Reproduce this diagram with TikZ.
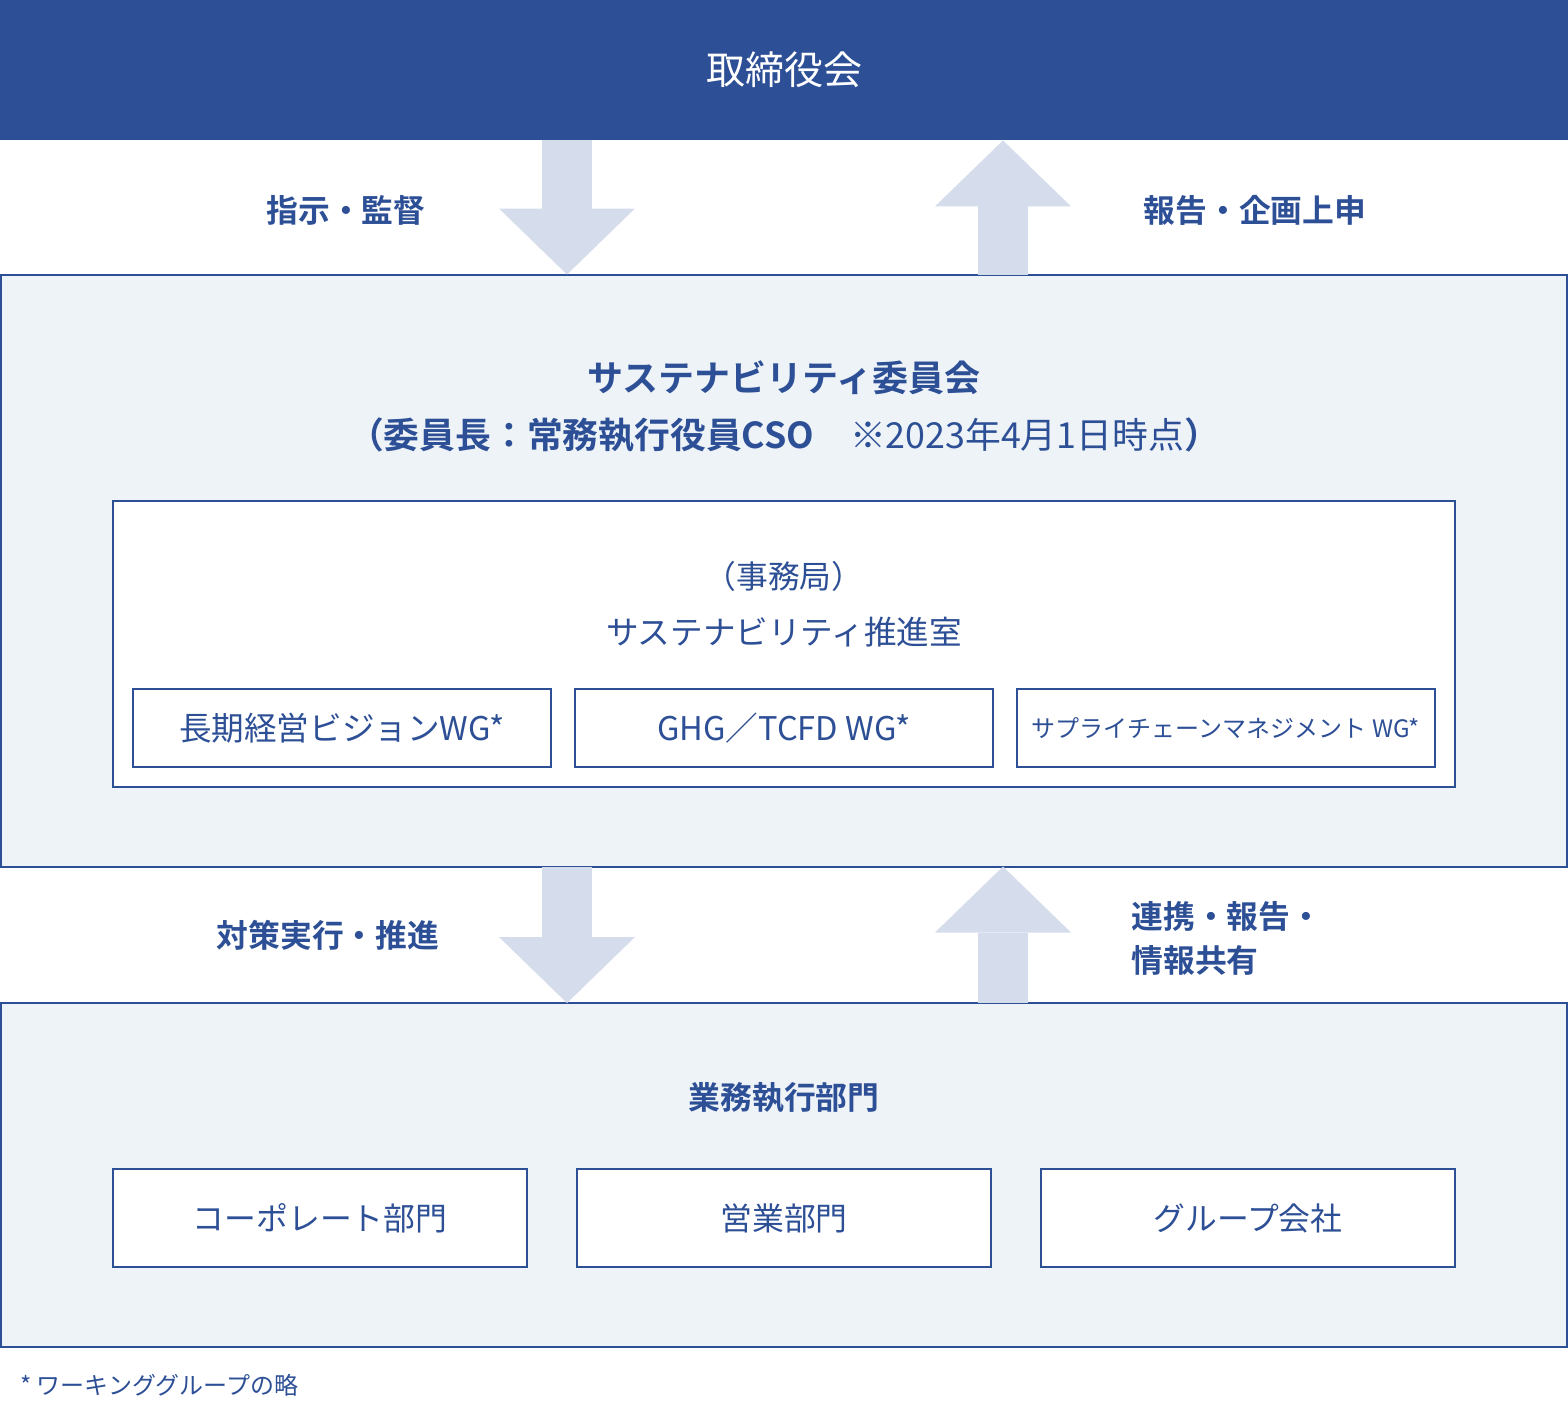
\documentclass[tikz,border=0pt]{standalone}
\usepackage{fontspec}
\setmainfont{Noto Sans CJK JP}[BoldFont={Noto Sans CJK JP Bold}]
\usetikzlibrary{arrows.meta,positioning}
\definecolor{navy}{HTML}{2D4F96}
\definecolor{pale}{HTML}{EEF3F8}
\definecolor{arrowgray}{HTML}{D5DCEB}
\tikzset{
  x=0.5pt,y=-0.5pt,
  panel/.style={draw=navy,fill=pale,line width=1pt,inner sep=0pt,outer sep=0pt},
  whitebox/.style={draw=navy,fill=white,line width=1pt,inner sep=0pt,outer sep=0pt},
  lbl/.style={text=navy,inner sep=0pt,font=\fontsize{15.9pt}{22pt}\selectfont},
  boldlbl/.style={lbl,font=\fontsize{15.9pt}{22pt}\selectfont\bfseries},
  wgbox/.style={whitebox,minimum width=209pt,minimum height=39pt,lbl,
    font=\fontsize{16.3pt}{22pt}\selectfont},
  deptbox/.style={whitebox,minimum width=207pt,minimum height=49pt,lbl},
  blockarr/.style={draw=arrowgray,line width=25pt,
    -{Triangle[length=33pt,width=68pt,line width=0pt]}},
}
\begin{document}
\begin{tikzpicture}
  \useasboundingbox (0,0) rectangle (1568,1403);
  % ---- board of directors ----
  \node[fill=navy,inner sep=0pt,minimum width=784pt,minimum height=70pt] (board) at (784,70) {};
  \node[text=white,font=\fontsize{19.5pt}{24pt}\selectfont] (boardlbl) at (board.center) {取締役会};
  % ---- sustainability committee ----
  \node[panel,minimum width=783pt,minimum height=296pt] (comm) at (784,570.5) {};
  \node[boldlbl,font=\fontsize{18pt}{24pt}\selectfont\bfseries] (commtitle) at (784,378) {サステナビリティ委員会};
  \node[lbl,font=\fontsize{17.9pt}{24pt}\selectfont] (commsub) at (784,435)
    {{\bfseries （委員長：常務執行役員CSO}　※2023年4月1日時点{\bfseries ）}};
  \node[whitebox,minimum width=671pt,minimum height=143pt] (office) at (784,644) {};
  \node[lbl] (officelbl) at (784,576) {（事務局）};
  \node[lbl,font=\fontsize{16.3pt}{22pt}\selectfont] (officename) at (784,632) {サステナビリティ推進室};
  \node[wgbox] (wg1) at (342,728) {長期経営ビジョンWG*};
  \node[wgbox] (wg2) at (784,728) {GHG／TCFD WG*};
  \node[wgbox,font=\fontsize{12pt}{16pt}\selectfont] (wg3) at (1226,728) {サプライチェーンマネジメント WG*};
  % ---- business execution ----
  \node[panel,minimum width=783pt,minimum height=172pt] (exec) at (784,1175) {};
  \node[boldlbl] (exectitle) at (784,1098) {業務執行部門};
  \foreach \x/\name/\txt in {320/dept1/コーポレート部門,784/dept2/営業部門,1248/dept3/グループ会社}
    \node[deptbox] (\name) at (\x,1218) {\txt};
  % ---- arrows ----
  \coordinate (downx) at (567,0);
  \coordinate (upx) at (1003,0);
  \draw[blockarr] (downx |- board.south) -- (downx |- comm.north);
  \draw[blockarr] (upx |- comm.north) -- (upx |- board.south);
  \draw[blockarr] (downx |- comm.south) -- (downx |- exec.north);
  \draw[blockarr] (upx |- exec.north) -- (upx |- comm.south);
  \node[boldlbl] (instr) at (346,210) {指示・監督};
  \node[boldlbl] (report) at (1255,210) {報告・企画上申};
  \node[boldlbl] (measure) at (328,935) {対策実行・推進};
  \node[boldlbl,align=left,anchor=west] (share) at (1131,938) {連携・報告・\\情報共有};
  % ---- footnote ----
  \node[lbl,anchor=west,font=\fontsize{12pt}{14pt}\selectfont] (note) at (20,1385) {* ワーキンググループの略};
\end{tikzpicture}
\end{document}
